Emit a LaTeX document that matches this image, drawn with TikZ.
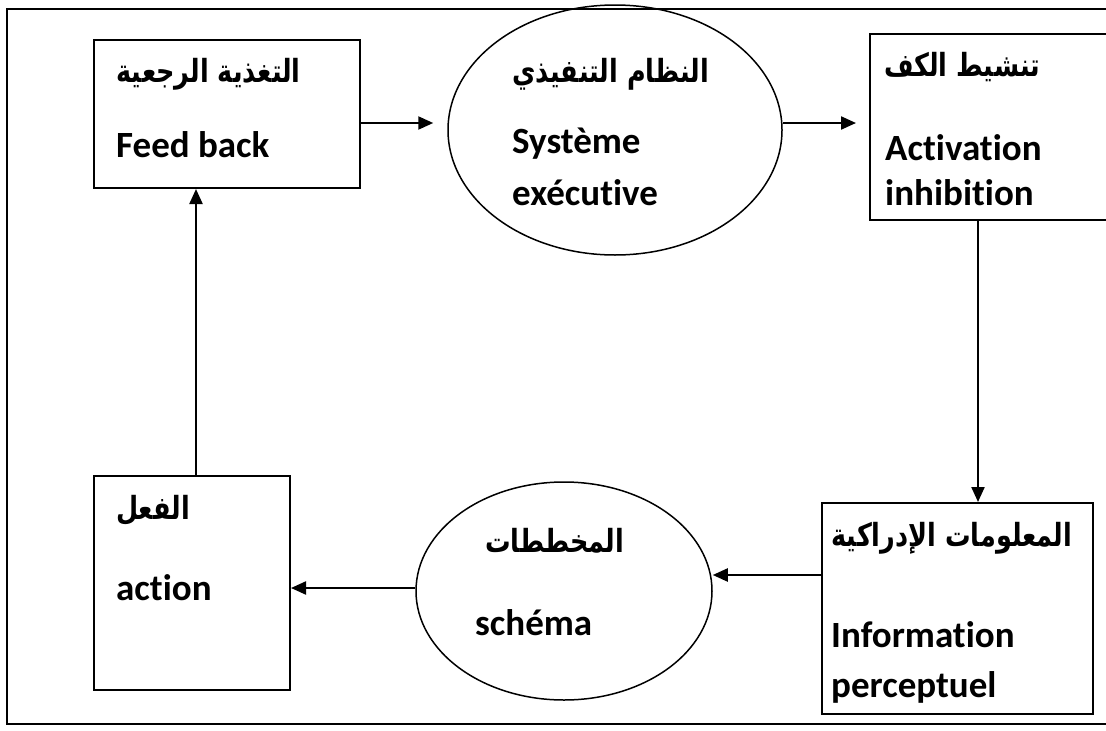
\documentclass[tikz,border=0pt]{standalone}
\usepackage{fontspec}
\usepackage{graphicx}
\setmainfont{Carlito}[Ligatures={NoCommon}]
\newfontfamily\arabicfont[Script=Arabic]{DejaVu Sans}
\TeXXeTstate=1
\newcommand{\artxt}[1]{\scalebox{1}[1.25]{\beginR #1\endR}}
\usetikzlibrary{shapes.geometric,arrows.meta}
\begin{document}
\begin{tikzpicture}[x=1pt,y=-1pt,
  boxnode/.style={draw,line width=2pt,rectangle,inner sep=0pt},
  ellnode/.style={draw,line width=1.5pt,ellipse,inner sep=0pt},
  lat/.style={anchor=base west,inner sep=0pt,font=\fontsize{37}{40}\selectfont\bfseries},
  arb/.style={anchor=base west,inner sep=0pt,font=\fontsize{25.5}{30}\selectfont\arabicfont\bfseries},
  arr/.style={line width=2.2pt,-{Triangle[length=15pt,width=13pt]}}]
\useasboundingbox (0,0) rectangle (1106,731);
\clip (0,0) rectangle (1106,731);
% outer frame
\draw[line width=2pt] (7,9) rectangle (1130,724);
% shapes
\node[boxnode,minimum width=266pt,minimum height=148pt] (box1) at (227,114) {};
\node[ellnode,minimum width=334pt,minimum height=250pt] (ell1) at (615,130) {};
\node[boxnode,minimum width=260pt,minimum height=186pt] (box3) at (1000,127) {};
\node[boxnode,minimum width=271pt,minimum height=211pt] (box4) at (957.5,608.5) {};
\node[ellnode,minimum width=296pt,minimum height=218pt] (ell2) at (564,591) {};
\node[boxnode,minimum width=196pt,minimum height=214pt] (box5) at (192,583) {};
% texts
\node[arb] (t1a) at (116,82) {\artxt{التغذية الرجعية}};
\node[lat] (t1b) at (116,157) {Feed back};
\node[arb] (t2a) at (512,82) {\artxt{النظام التنفيذي}};
\node[lat] (t2b) at (512,153) {Système};
\node[lat] (t2c) at (512,205) {exécutive};
\node[arb] (t3a) at (884,76) {\artxt{تنشيط الكف}};
\node[lat] (t3b) at (885,160) {Activation};
\node[lat] (t3c) at (885,205) {inhibition};
\node[arb] (t4a) at (831,546) {\artxt{المعلومات الإدراكية}};
\node[lat] (t4b) at (831,647) {Information};
\node[lat] (t4c) at (831,697) {perceptuel};
\node[arb] (t5a) at (116,519) {\artxt{الفعل}};
\node[lat] (t5b) at (116,600) {action};
\node[arb] (t6a) at (485,552) {\artxt{المخططات}};
\node[lat] (t6b) at (475,635) {schéma};
% connectors
\draw[arr,shorten >=14pt] ([yshift=-9pt]box1.east) -- ([yshift=7pt]ell1.west);
\draw[arr,shorten >=13pt] ([yshift=7pt]ell1.east) -- ([yshift=4pt]box3.west);
\draw[arr] ([xshift=-22pt]box3.south) -- ([xshift=20.5pt]box4.north);
\draw[arr] ([yshift=33.5pt]box4.west) -- ([yshift=16pt]ell2.east);
\draw[arr] ([yshift=3pt]ell2.west) -- ([yshift=-5pt]box5.east);
\draw[arr] ([xshift=4pt]box5.north) -- ([xshift=-31pt]box1.south);
\end{tikzpicture}
\end{document}
